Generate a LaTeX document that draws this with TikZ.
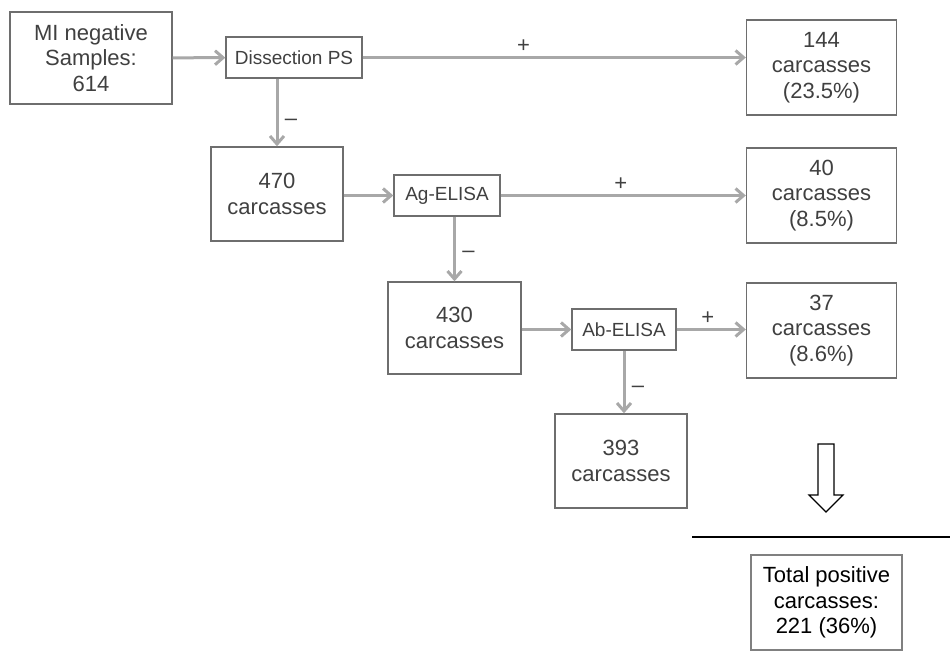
\documentclass[tikz,border=0pt]{standalone}
\usepackage{fontspec}
\setmainfont{Liberation Sans}
\usetikzlibrary{arrows.meta}
\definecolor{boxline}{HTML}{6E6E6E}
\definecolor{flow}{HTML}{A8A8A8}
\definecolor{ink}{HTML}{404040}
\tikzset{
  x=1pt, y=-1pt,
  box/.style={draw=boxline, line width=1.4pt, fill=white, text=ink, align=center,
    inner sep=0pt, font=\fontsize{22}{25.5}\selectfont},
  test/.style={box, font=\fontsize{19}{22}\selectfont},
  flowarrow/.style={draw=flow, line width=3pt, -{Straight Barb[length=8pt,width=14pt]}},
  sign/.style={text=ink, font=\fontsize{22}{24}\selectfont}
}
\begin{document}
\begin{tikzpicture}
  \useasboundingbox (0,0) rectangle (950,651);
  % first column
  \node[box, minimum width=162pt, minimum height=92pt] (mi) at (91,58) {MI negative\\Samples:\\614};
  \node[test, minimum width=136pt, minimum height=41pt] (dis) at (294,57.5) {Dissection PS};
  \node[box, minimum width=132pt, minimum height=94pt] (c470) at (277,194) {470\\carcasses};
  \node[test, minimum width=106pt, minimum height=41pt] (ag) at (447,195.5) {Ag-ELISA};
  \node[box, minimum width=133pt, minimum height=92pt] (c430) at (454.5,328) {430\\carcasses};
  \node[test, minimum width=104pt, minimum height=41pt] (ab) at (624,329.5) {Ab-ELISA};
  \node[box, minimum width=132pt, minimum height=94pt] (c393) at (621,461) {393\\carcasses};
  % positive results
  \foreach \n/\y/\t in {p144/67.5/{144\\carcasses\\(23.5\%)},
                        p40/195.5/{40\\carcasses\\(8.5\%)},
                        p37/330.5/{37\\carcasses\\(8.6\%)}}
    \node[box, minimum width=150pt, minimum height=95pt] (\n) at (821.5,\y) {\t};
  % connectors
  \draw[flowarrow] (mi) -- (dis);
  \draw[flowarrow] (dis.east) -- node[sign, pos=0.42, above=0pt] {+} (dis.east -| p144.west);
  \draw[flowarrow] (dis.south -| c470) -- node[sign, pos=0.64, right=3pt] {–} (c470.north);
  \draw[flowarrow] (c470.east |- ag) -- (ag.west);
  \draw[flowarrow] (ag.east) -- node[sign, pos=0.49, above=0pt] {+} (ag.east -| p40.west);
  \draw[flowarrow] (ag.south -| c430) -- node[sign, pos=0.58, right=3pt] {–} (c430.north);
  \draw[flowarrow] (c430.east |- ab) -- (ab.west);
  \draw[flowarrow] (ab.east) -- node[sign, pos=0.45, above=0pt] {+} (ab.east -| p37.west);
  \draw[flowarrow] (ab.south) -- node[sign, pos=0.62, right=3pt] {–} (ab.south |- c393.north);
  % total
  \draw[line width=1.2pt, fill=white] (818,444) -- (834,444) -- (834,495) -- (843,495)
    -- (826,512) -- (809,495) -- (818,495) -- cycle;
  \draw[line width=2pt] (692,537) -- (950,537);
  \node[box, draw=gray, text=black, minimum width=151pt, minimum height=95pt] (tot) at (826.5,602.5)
    {Total positive\\carcasses:\\221 (36\%)};
\end{tikzpicture}
\end{document}
